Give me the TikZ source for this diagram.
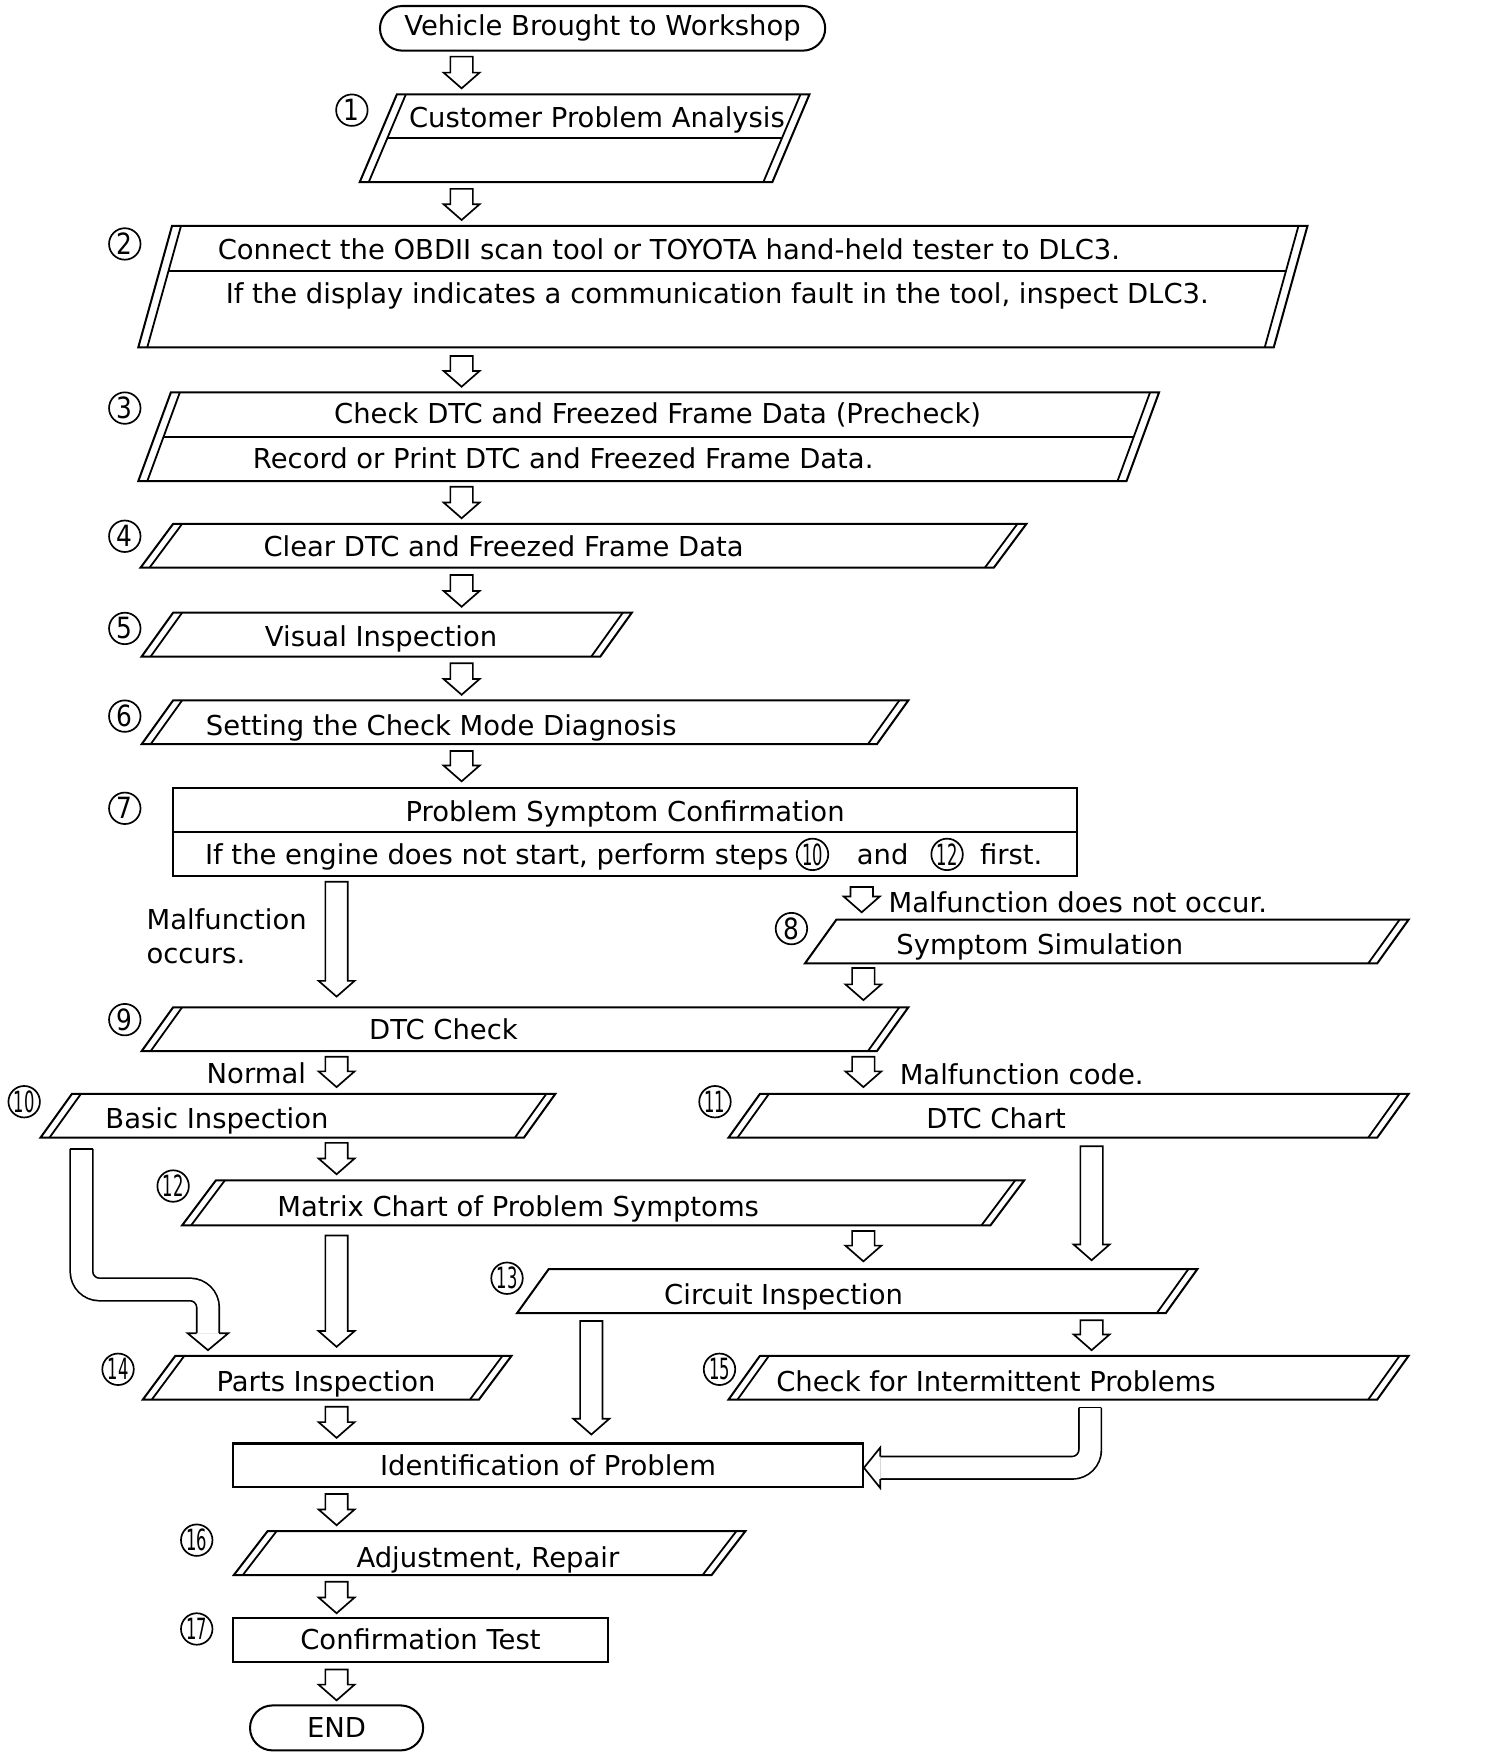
\documentclass[tikz,border=0pt]{standalone}
\usepackage{fontspec}
\setmainfont{DejaVu Sans}
\usetikzlibrary{calc}
\newcommand{\cn}[1]{\scalebox{0.56}[1]{#1}}
\newcommand{\sn}[1]{\scalebox{0.85}[1]{#1}}
\newcommand{\pgram}[6]{%
  \draw[boxline] (#2,#4) -- (#3,#4) -- ({#3-#6},#5) -- ({#2-#6},#5) -- cycle;
  \draw[innerline] ({#2+8},#4) -- ({#2-#6+8},#5);
  \draw[innerline] ({#3-8},#4) -- ({#3-#6-8},#5);
  \coordinate (#1) at ({(#2+#3-#6)/2},{(#4+#5)/2});}
\newcommand{\pgramS}[6]{%
  \draw[boxline] (#2,#4) -- (#3,#4) -- ({#3-#6},#5) -- ({#2-#6},#5) -- cycle;
  \draw[innerline] ({#3-8},#4) -- ({#3-#6-8},#5);
  \coordinate (#1) at ({(#2+#3-#6)/2},{(#4+#5)/2});}
\newcommand{\pdiv}[6]{%
  \draw[boxline] ({#1+8-#5*(#6-#3)/(#4-#3)},#6) -- ({#2-8-#5*(#6-#3)/(#4-#3)},#6);}
\newcommand{\blockarrow}[2]{%
  \draw[arrowline] let \p1=(#1), \p2=(#2) in
    (\x1-5pt,\y1) -- (\x1-5pt,\y2+7pt) -- (\x1-8pt,\y2+7pt) -- (\x1,\y2)
    -- (\x1+8pt,\y2+7pt) -- (\x1+5pt,\y2+7pt) -- (\x1+5pt,\y1) -- cycle;}
\newcommand{\arr}[4]{\coordinate (#1s) at (#2,#3); \coordinate (#1e) at (#2,#4); \blockarrow{#1s}{#1e}}
\begin{document}
\begin{tikzpicture}[x=0.5pt,y=-0.5pt,
  boxline/.style={line width=0.9pt, line join=miter},
  innerline/.style={line width=0.8pt},
  arrowline/.style={draw, line width=0.75pt, fill=white, line join=miter},
  bent/.style={line width=0.75pt, double=white, double distance=9.25pt, rounded corners=8pt},
  t/.style={inner sep=0pt, anchor=base, font=\fontsize{12.2}{14}\selectfont},
  num/.style={circle, draw, line width=0.75pt, minimum size=14pt, inner sep=0pt, font=\fontsize{13}{13}\selectfont},
]
\useasboundingbox (0,0) rectangle (1338,1562);

% start / end
\node[draw, line width=0.9pt, rounded corners=9.9pt, minimum width=198pt, minimum height=19.85pt, inner sep=0pt, font=\fontsize{12.2}{14}\selectfont] (start) at (536,25.2) {Vehicle Brought to Workshop};
\node[draw, line width=0.9pt, rounded corners=10pt, minimum width=77pt, minimum height=20pt, inner sep=0pt, font=\fontsize{12.2}{14}\selectfont] (end) at (299.4,1537) {END};

% boxes
\pgram{b1}{353}{720}{84}{162}{33}  \pdiv{353}{720}{84}{162}{33}{123}
\pgram{b2}{153}{1163}{201}{309}{30} \pdiv{153}{1163}{201}{309}{30}{241}
\pgram{b3}{152}{1031}{349}{428}{29} \pdiv{152}{1031}{349}{428}{29}{389}
\pgram{b4}{154}{913}{466}{505}{29}
\pgram{b5}{154}{562}{545}{584}{28}
\pgram{b6}{154}{808}{623}{662}{28}
\draw[boxline] (154,701) rectangle (958,779);
\draw[boxline] (154,740) -- (958,740);
\coordinate (b7) at (556,740);
\pgramS{b8}{744}{1253}{818}{857}{28}
\pgram{b9}{154}{808}{896}{935}{28}
\pgram{b10}{64}{494}{973}{1012}{28}
\pgram{b11}{676}{1253}{973}{1012}{28}
\pgram{b12}{192}{911}{1050}{1090}{30}
\pgramS{b13}{488}{1065}{1129}{1168}{28}
\pgram{b14}{156}{455}{1206}{1245}{29}
\pgram{b15}{676}{1253}{1206}{1245}{28}
\node[draw, line width=0.9pt, minimum width=280.5pt, minimum height=19.5pt, inner sep=0pt, font=\fontsize{12.2}{14}\selectfont] (ident) at (487.5,1303.5) {Identification of Problem};
\pgram{b16}{238}{663}{1362}{1401}{30}
\node[draw, line width=0.9pt, minimum width=167pt, minimum height=19.5pt, inner sep=0pt, font=\fontsize{12.2}{14}\selectfont] (b17) at (374,1458.5) {Confirmation Test};

% texts
\node[t] (t1) at (531,113) {Customer Problem Analysis};
\node[t] (t2a) at (595,231) {Connect the OBDII scan tool or TOYOTA hand-held tester to DLC3.};
\node[t] (t2b) at (638,270) {If the display indicates a communication fault in the tool, inspect DLC3.};
\node[t] (t3a) at (585,377) {Check DTC and Freezed Frame Data (Precheck)};
\node[t] (t3b) at (501,417) {Record or Print DTC and Freezed Frame Data.};
\node[t] (t4) at (448,495) {Clear DTC and Freezed Frame Data};
\node[t] (t5) at (339,575) {Visual Inspection};
\node[t] (t6) at (392.5,654) {Setting the Check Mode Diagnosis};
\node[t] (t7a) at (556,731) {Problem Symptom Confirmation};
\node[t, anchor=base west] (t7b) at (182,769) {If the engine does not start, perform steps};
\node[num] (c10in) at ($(t7b.base east)+(21,-9)$) {\cn{10}};
\node[t, anchor=base west] (and7) at ($(c10in.center)+(39,9)$) {and};
\node[num] (c12in) at ($(and7.base east)+(34,-9)$) {\cn{12}};
\node[t, anchor=base west] (first7) at ($(c12in.center)+(29,9)$) {first.};
\node[t, anchor=base west] (mocc1) at (130,827) {Malfunction};
\node[t, anchor=base west] (mocc2) at (130,857) {occurs.};
\node[t, anchor=base west] (mnot) at (790,812) {Malfunction does not occur.};
\node[t] (t8) at (925,849) {Symptom Simulation};
\node[t] (t9) at (394.5,925) {DTC Check};
\node[t] (norm) at (228,964) {Normal};
\node[t, anchor=base west] (mcode) at (800,965) {Malfunction code.};
\node[t] (t10) at (193,1004) {Basic Inspection};
\node[t] (t11) at (886,1004) {DTC Chart};
\node[t] (t12) at (461,1082) {Matrix Chart of Problem Symptoms};
\node[t] (t13) at (697,1160) {Circuit Inspection};
\node[t] (t14) at (290,1238) {Parts Inspection};
\node[t] (t15) at (886,1238) {Check for Intermittent Problems};
\node[t] (t16) at (434,1394) {Adjustment, Repair};

% step numbers
\node[num] (n1) at (313,98) {\sn{1}};
\node[num] (n2) at (111,217) {\sn{2}};
\node[num] (n3) at (111,363) {\sn{3}};
\node[num] (n4) at (111,477) {\sn{4}};
\node[num] (n5) at (111,559) {\sn{5}};
\node[num] (n6) at (111,637) {\sn{6}};
\node[num] (n7) at (111,719) {\sn{7}};
\node[num] (n8) at (704,826) {\sn{8}};
\node[num] (n9) at (111,907) {\sn{9}};
\node[num] (n10) at (21.5,980) {\cn{10}};
\node[num] (n11) at (636,980) {\cn{11}};
\node[num] (n12) at (154,1055) {\cn{12}};
\node[num] (n13) at (451,1137) {\cn{13}};
\node[num] (n14) at (105,1218) {\cn{14}};
\node[num] (n15) at (640,1218) {\cn{15}};
\node[num] (n16) at (175,1370) {\cn{16}};
\node[num] (n17) at (175,1449) {\cn{17}};

% straight arrows
\arr{a0}{410.6}{50.4}{78.6}
\arr{a1}{410.6}{168}{195.7}
\arr{a2}{410.6}{316.7}{344}
\arr{a3}{410.6}{433}{461}
\arr{a4}{410.6}{511.5}{539.7}
\arr{a5}{410.6}{590}{618}
\arr{a6}{410.6}{668}{695}
\arr{amocc}{299.4}{784.4}{886.5}
\arr{anot}{766.5}{789}{811.5}
\arr{a8}{768}{861}{889.6}
\arr{anorm}{299.4}{940}{967}
\arr{acode}{768}{940}{967}
\arr{a10}{299.4}{1016.6}{1044.5}
\arr{a11}{971}{1019.6}{1121}
\arr{a12}{299.4}{1099}{1198}
\arr{a12b}{768}{1095}{1122}
\arr{a13}{971}{1174.4}{1201}
\arr{a13b}{526}{1175}{1276}
\arr{a14}{299.4}{1251.4}{1279}
\arr{aid}{299.4}{1329}{1356.7}
\arr{a16}{299.4}{1407}{1435}
\arr{a17}{299.4}{1485}{1512.5}

% bent arrow 10 -> 14
\coordinate (k10s) at (72.5,1022);
\coordinate (k10e) at (185,1186);
\draw[bent] (k10s) -- (72.5,1147) -- (185,1147) -- (k10e);
\draw[line width=0.75pt] ($(k10s)+(-10,0)$) -- ($(k10s)+(10,0)$);
\filldraw[fill=white, line width=0.75pt, line join=miter] ($(k10e)+(-10,0)$) -- ($(k10e)+(-18,0)$) -- ($(k10e)+(0,15)$) -- ($(k10e)+(18,0)$) -- ($(k10e)+(10,0)$);

% bent arrow 15 -> identification
\coordinate (k15s) at (969.7,1252);
\coordinate (k15e) at (783,1305.6);
\draw[bent] (k15s) -- (969.7,1305.6) -- (k15e);
\draw[line width=0.75pt] ($(k15s)+(-10,0)$) -- ($(k15s)+(10,0)$);
\filldraw[fill=white, line width=0.75pt, line join=miter] ($(k15e)+(0,-10)$) -- ($(k15e)+(0,-18)$) -- ($(k15e)+(-14.5,0)$) -- ($(k15e)+(0,18)$) -- ($(k15e)+(0,10)$);
\end{tikzpicture}
\end{document}
